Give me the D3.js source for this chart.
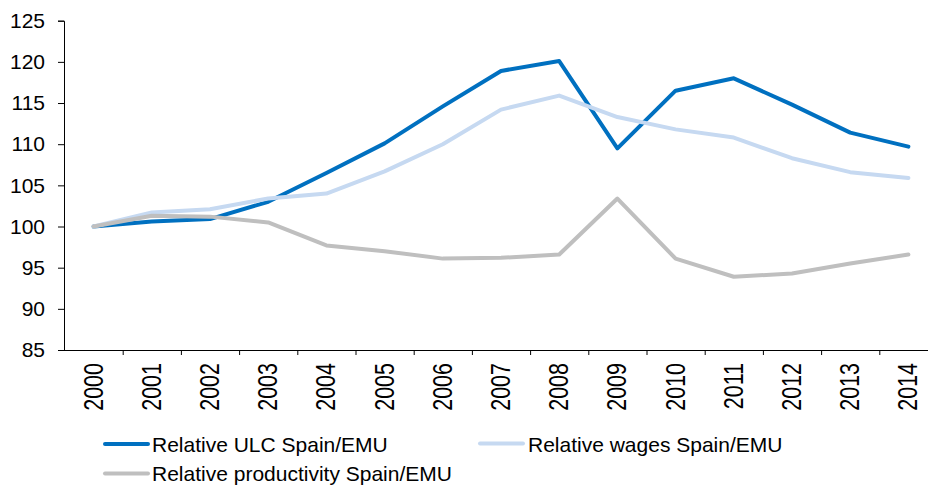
<!DOCTYPE html>
<html>
<head>
<meta charset="utf-8">
<script src="https://cdn.jsdelivr.net/npm/d3@7"></script>
<style>
  html, body { margin: 0; padding: 0; background: #fff; }
  svg { display: block; font-family: "Liberation Sans", Arial, sans-serif; }
</style>
</head>
<body>
<svg id="chart" width="928" height="485"></svg>
<script>
// Data
const years = ['2000', '2001', '2002', '2003', '2004', '2005', '2006', '2007',
               '2008', '2009', '2010', '2011', '2012', '2013', '2014'];

const ulc = [100, 100.6, 100.9, 103.0, 106.5, 110.1, 114.6, 118.9,
             120.1, 109.5, 116.5, 118.0, 114.8, 111.4, 109.7];

const wages = [100, 101.7, 102.1, 103.4, 104.0, 106.7, 110.0, 114.2,
               115.9, 113.3, 111.8, 110.8, 108.3, 106.6, 105.9];

const productivity = [100, 101.3, 101.2, 100.5, 97.7, 97.0, 96.1, 96.2,
                      96.6, 103.4, 96.1, 93.9, 94.3, 95.5, 96.6];

const yTicks = [85, 90, 95, 100, 105, 110, 115, 120, 125];

const seriesNames = ['Relative ULC Spain/EMU', 'Relative wages Spain/EMU', 'Relative productivity Spain/EMU'];
const seriesColors = ['#0070c0', '#c6d9f1', '#bfbfbf'];

const svg = d3.select('#chart');

const plotLeft = 64, plotRight = 937.5, plotTop = 20.7, plotBottom = 350;

const x = d3.scaleBand()
    .domain(years)
    .range([64.5, plotRight])
    .padding(0);

const y = d3.scaleLinear()
    .domain([85, 125])
    .range([plotBottom, plotTop]);

// Y axis
const yAxis = svg.append('g')
    .attr('transform', `translate(${plotLeft},0)`)
    .call(d3.axisLeft(y)
        .tickValues(yTicks)
        .tickSize(6)
        .tickSizeOuter(6)
        .tickPadding(13));

yAxis.selectAll('text')
    .attr('font-size', '21px')
    .attr('font-family', '"Liberation Sans", Arial, sans-serif')
    .attr('fill', '#000');
yAxis.selectAll('path, line').attr('stroke', '#000');

// X axis: ticks on the category boundaries
const xEdges = d3.scaleLinear()
    .domain([0, years.length])
    .range(x.range());

const xAxis = svg.append('g')
    .attr('transform', `translate(0,${plotBottom})`)
    .call(d3.axisBottom(xEdges)
        .tickValues(d3.range(1, years.length + 1))
        .tickSize(5)
        .tickSizeOuter(0)
        .tickFormat(''));

xAxis.select('.domain').attr('d', `M${plotLeft},0.5H${plotRight}`);
xAxis.selectAll('path, line').attr('stroke', '#000');

// Rotated year labels
svg.append('g')
    .selectAll('text')
    .data(years)
    .enter()
    .append('text')
    .attr('transform', d => `translate(${x(d) + x.bandwidth() / 2 - 1},363) rotate(-90) scale(1,1.3)`)
    .attr('text-anchor', 'end')
    .attr('dominant-baseline', 'central')
    .attr('font-size', '21.5px')
    .attr('fill', '#000')
    .text(d => d);

// Lines
const line = d3.line()
    .x((d, i) => x(years[i]) + x.bandwidth() / 2)
    .y(d => y(d));

const allSeries = [ulc, wages, productivity];

svg.append('g')
    .selectAll('path')
    .data(allSeries)
    .enter()
    .append('path')
    .attr('d', d => line(d))
    .attr('fill', 'none')
    .attr('stroke', (d, i) => seriesColors[i])
    .attr('stroke-width', 4)
    .attr('stroke-linejoin', 'round')
    .attr('stroke-linecap', 'round');

// Legend
const legendPos = [
    { lx: 105, ly: 444, tx: 152, ty: 452 },
    { lx: 480, ly: 443.5, tx: 528, ty: 452 },
    { lx: 105, ly: 473.5, tx: 152, ty: 481 }
];

const legend = svg.append('g')
    .selectAll('g')
    .data(seriesNames)
    .enter()
    .append('g');

legend.append('line')
    .attr('x1', (d, i) => legendPos[i].lx)
    .attr('x2', (d, i) => legendPos[i].lx + 43)
    .attr('y1', (d, i) => legendPos[i].ly)
    .attr('y2', (d, i) => legendPos[i].ly)
    .attr('stroke', (d, i) => seriesColors[i])
    .attr('stroke-width', 4)
    .attr('stroke-linecap', 'round');

legend.append('text')
    .attr('x', (d, i) => legendPos[i].tx)
    .attr('y', (d, i) => legendPos[i].ty)
    .attr('font-size', '21px')
    .attr('fill', '#000')
    .text(d => d);
</script>
</body>
</html>
